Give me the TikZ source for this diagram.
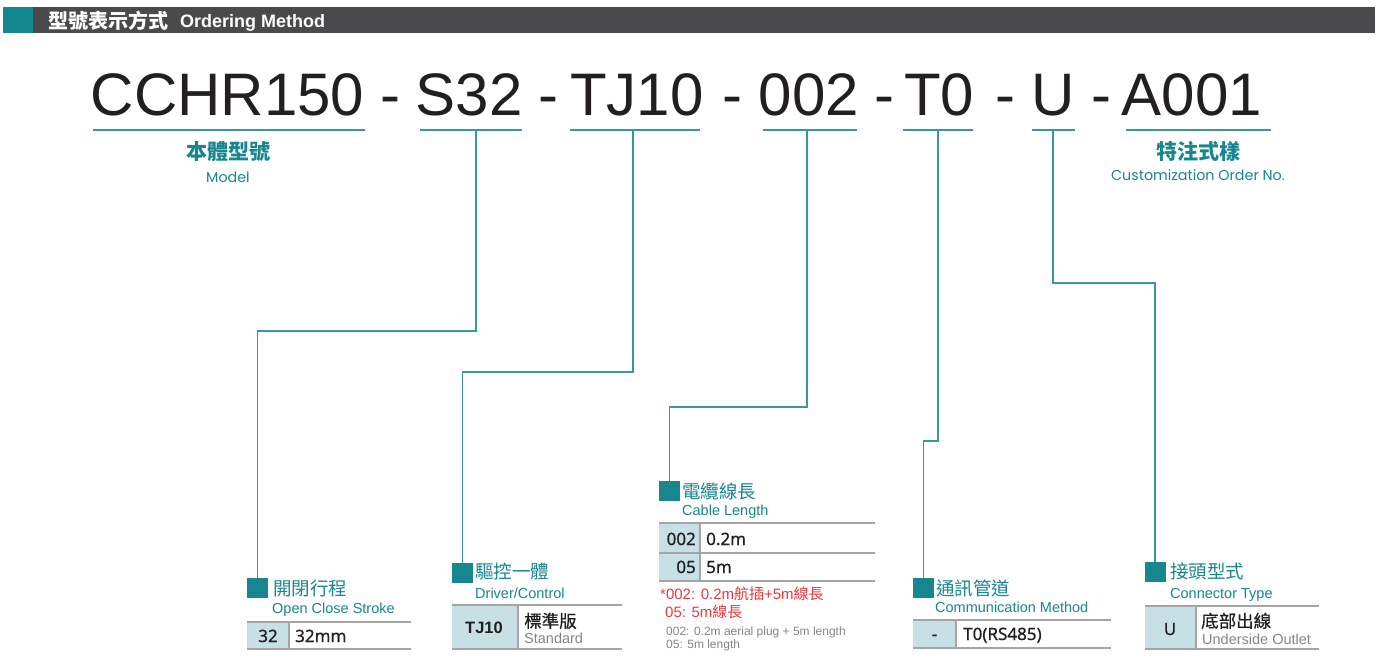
\documentclass[tikz,border=0pt]{standalone}
\usepackage{fontspec}
\setmainfont{Liberation Sans}
\newfontfamily\cjk{Noto Sans CJK TC}
\newfontfamily\cjkm{Noto Sans CJK TC}[FakeBold=0.6]
\newfontfamily\geo{Poppins}
\newfontfamily\tabf{Noto Sans}[FakeBold=0.7]
\definecolor{tl}{HTML}{17868F}
\definecolor{tlline}{HTML}{3A97A0}
\definecolor{hdteal}{HTML}{12878E}
\definecolor{hdgray}{HTML}{4A4A4C}
\definecolor{cellblue}{HTML}{C6E0E6}
\definecolor{rulegray}{HTML}{A5A5A5}
\definecolor{redtxt}{HTML}{E8383D}
\definecolor{graytxt}{HTML}{858585}
\definecolor{ink}{HTML}{231F20}
\begin{document}
\begin{tikzpicture}[x=1pt,y=-1pt,
  conn/.style={draw=tlline, line width=1.4},
  ul/.style={draw=tlline, line width=1.4},
  sqr/.style={fill=tl, minimum width=21, minimum height=20, inner sep=0, outer sep=0},
  big/.style={anchor=base, inner sep=0, text=ink, font=\fontsize{60}{60}\selectfont},
  lbl/.style={anchor=base, inner sep=0, text=tl, font=\cjk\bfseries\fontsize{21}{21}\selectfont},
  lblen/.style={anchor=base, inner sep=0, text=tl, font=\geo\fontsize{14.3}{14.3}\selectfont},
  ttl/.style={anchor=base west, inner sep=0, text=tl, font=\cjk\fontsize{18.5}{18.5}\selectfont},
  sub/.style={anchor=base west, inner sep=0, text=tl, font=\fontsize{14.5}{14.5}\selectfont},
  rule/.style={draw=rulegray, line width=2},
  code/.style={anchor=base, inner sep=0, text=ink, font=\tabf\fontsize{17}{17}\selectfont},
  val/.style={anchor=base west, inner sep=0, text=ink, font=\tabf\fontsize{17}{17}\selectfont},
  desc/.style={anchor=base west, inner sep=0, text=ink, font=\cjkm\fontsize{17.5}{17.5}\selectfont},
  descen/.style={anchor=base west, inner sep=0, text=graytxt, font=\fontsize{14.5}{14.5}\selectfont},
  note/.style={anchor=base west, inner sep=0, text=redtxt, font=\fontsize{15}{15}\selectfont},
  notesm/.style={anchor=base west, inner sep=0, text=graytxt, font=\fontsize{12}{12}\selectfont}
]
\useasboundingbox (0,0) rectangle (1381,665);
\fill[white] (0,0) rectangle (1381,665);

% header
\fill[hdteal] (3,7) rectangle (33,33);
\fill[hdgray] (33,7) rectangle (1375,33);
\node[anchor=base west, inner sep=0, text=white, font=\cjk\bfseries\fontsize{20}{20}\selectfont] (hdcjk) at (48,28) {型號表示方式};
\node[anchor=base west, inner sep=0, text=white, font=\bfseries\fontsize{18}{18}\selectfont] (hden) at (180,27.5) {Ordering Method};

% model code
\node[big] (m1) at (227.5,115) {CCHR150};
\node[big] (d1) at (390,115) {-};
\node[big] (m2) at (469,115) {S32};
\node[big] (d2) at (548,115) {-};
\node[big] (m3) at (637,115) {TJ10};
\node[big] (d3) at (732,115) {-};
\node[big] (m4) at (809,115) {002};
\node[big] (d4) at (884,115) {-};
\node[big] (m5) at (939,115) {T0};
\node[big] (d5) at (1005,115) {-};
\node[big] (m6) at (1053,115) {U};
\node[big] (d6) at (1101,115) {-};
\node[big] (m7) at (1192,115) {A001};

% underlines
\draw[ul] (93,130) -- (365,130);
\draw[ul] (420,130) -- (522,130);
\draw[ul] (570,130) -- (700,130);
\draw[ul] (763,130) -- (857,130);
\draw[ul] (903,130) -- (973,130);
\draw[ul] (1032,130) -- (1075,130);
\draw[ul] (1126,130) -- (1271,130);
\coordinate (c2) at (476,130);
\coordinate (c3) at (633,130);
\coordinate (c4) at (807,130);
\coordinate (c5) at (938,130);
\coordinate (c6) at (1053,130);

% top labels
\node[lbl] (lm) at (228,159) {本體型號};
\node[lblen] (lme) at (228,182) {Model};
\node[lbl] (lc) at (1198,159) {特注式樣};
\node[lblen] (lce) at (1198,180) {Customization Order No.};

% squares
\node[sqr] (sq1) at (257.5,588) {};
\node[sqr] (sq2) at (462.5,572.5) {};
\node[sqr] (sq3) at (669.5,491) {};
\node[sqr] (sq4) at (923.5,587.5) {};
\node[sqr] (sq5) at (1155,571.5) {};

% connectors
\draw[conn] (c2) -- (476,331) -| (sq1.north);
\draw[conn] (c3) -- (633,372) -| (sq2.north);
\draw[conn] (c4) -- (807,407) -| (sq3.north);
\draw[conn] (c5) -- (938,441) -| (sq4.north);
\draw[conn] (c6) -- (1053,283) -| (sq5.north);

% block 1
\node[ttl] (t1) at (273,595.5) {開閉行程};
\node[sub] (s1) at (272,613) {Open Close Stroke};
\fill[cellblue] (247,622) rectangle (289,649);
\draw[rule] (247,622) -- (411,622);
\draw[rule] (247,649) -- (411,649);
\draw[rule] (289,622) -- (289,649);
\node[code] (k1) at (268,642) {32};
\node[val] (v1) at (295,642) {32mm};

% block 2
\node[ttl] (t2) at (475,578.5) {驅控一體};
\node[sub] (s2) at (475,598) {Driver/Control};
\fill[cellblue] (452,605) rectangle (518,649);
\draw[rule] (452,605) -- (622,605);
\draw[rule] (452,649) -- (622,649);
\draw[rule] (518,605) -- (518,649);
\node[code, font=\bfseries\fontsize{16.5}{16.5}\selectfont] (k2) at (484,633) {TJ10};
\node[desc] (v2) at (524,627.5) {標準版};
\node[descen] (e2) at (524,643.5) {Standard};

% block 3
\node[ttl] (t3) at (682,498) {電纜線長};
\node[sub] (s3) at (682,515) {Cable Length};
\fill[cellblue] (659,523) rectangle (700,581);
\draw[rule] (659,523) -- (875,523);
\draw[rule] (659,553) -- (875,553);
\draw[rule] (659,581) -- (875,581);
\draw[rule] (700,523) -- (700,581);
\node[code, anchor=base east] (k3a) at (696,545) {002};
\node[val] (v3a) at (706,545) {0.2m};
\node[code, anchor=base east] (k3b) at (696,573) {05};
\node[val] (v3b) at (706,573) {5m};
\node[note] (n1) at (660,599) {*002: 0.2m{\cjk 航插}+5m{\cjk 線長}};
\node[note] (n2) at (665,617) {05: 5m{\cjk 線長}};
\node[notesm] (n3) at (666,635) {002: 0.2m aerial plug + 5m length};
\node[notesm] (n4) at (666,648) {05: 5m length};

% block 4
\node[ttl] (t4) at (936,595.5) {通訊管道};
\node[sub] (s4) at (935,612) {Communication Method};
\fill[cellblue] (913,620) rectangle (956,648);
\draw[rule] (913,620) -- (1111,620);
\draw[rule] (913,648) -- (1111,648);
\draw[rule] (956,620) -- (956,648);
\node[code] (k4) at (934.5,640) {-};
\node[val] (v4) at (963,640) {T0(RS485)};

% block 5
\node[ttl] (t5) at (1170,578.5) {接頭型式};
\node[sub] (s5) at (1170,598) {Connector Type};
\fill[cellblue] (1145,606) rectangle (1196,649);
\draw[rule] (1145,606) -- (1319,606);
\draw[rule] (1145,649) -- (1319,649);
\draw[rule] (1196,606) -- (1196,649);
\node[code] (k5) at (1170,635) {U};
\node[desc] (v5) at (1201,627.5) {底部出線};
\node[descen] (e5) at (1202,644.5) {Underside Outlet};
\end{tikzpicture}
\end{document}
